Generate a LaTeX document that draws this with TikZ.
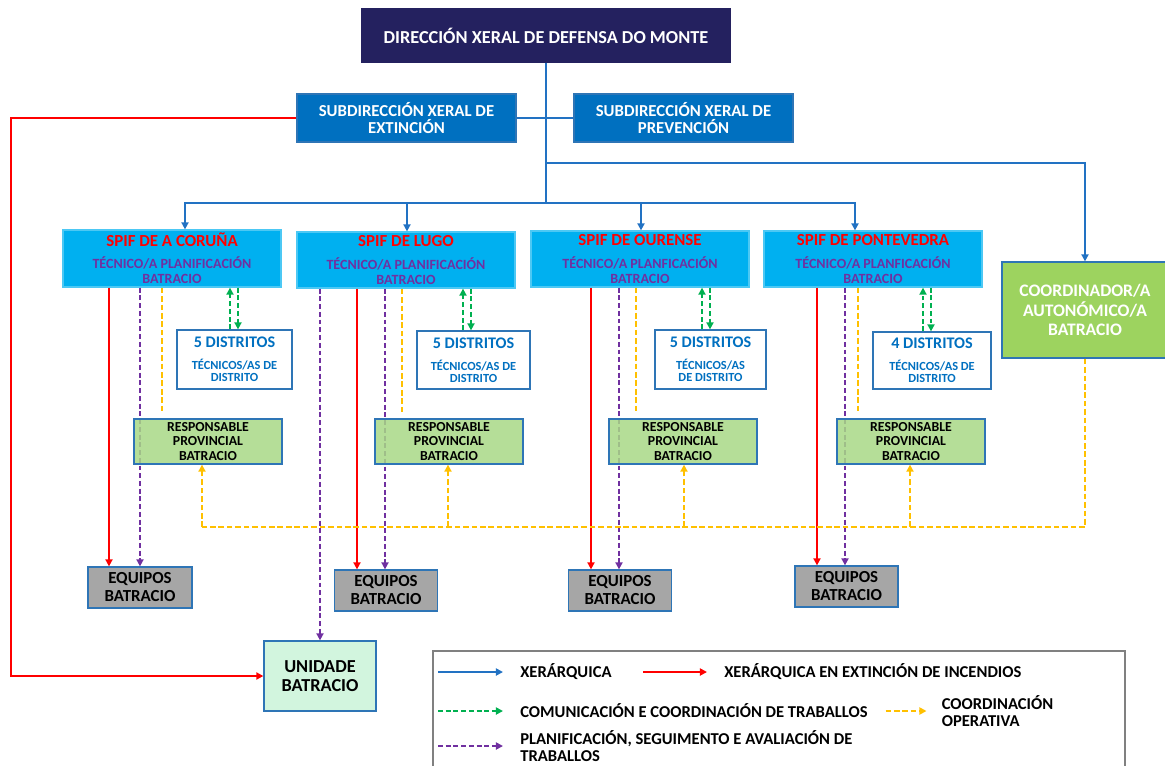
\documentclass[tikz,border=0pt]{standalone}
\usepackage{fontspec}
\setmainfont{Carlito}
\usepackage{xcolor}
\usepackage{tikz}
\usetikzlibrary{arrows.meta,calc}
\definecolor{dirnavy}{HTML}{24215F}
\definecolor{subblue}{HTML}{0070C0}
\definecolor{hierblue}{HTML}{2272C3}
\definecolor{spifcyan}{HTML}{00B0F0}
\definecolor{boxedge}{HTML}{2E75B6}
\definecolor{extred}{HTML}{FF0000}
\definecolor{planpurple}{HTML}{7030A0}
\definecolor{commgreen}{HTML}{00B050}
\definecolor{opyellow}{HTML}{FFC000}
\definecolor{respgreen}{HTML}{A8D886}
\definecolor{coordgreen}{HTML}{9DD35F}
\definecolor{eqgrey}{HTML}{A6A6A6}
\definecolor{unimint}{HTML}{D2F5DE}
\definecolor{leggrey}{HTML}{808080}
\tikzset{
  box/.style      = {draw=boxedge, line width=0.9pt, align=center, inner sep=0pt,
                     font=\bfseries},
  wh/.style 2 args = {minimum width=#1*0.025cm, minimum height=#2*0.025cm},
  dirbox/.style   = {box, fill=dirnavy, draw=dirnavy, text=white,
                     font=\bfseries\fontsize{13}{15}\selectfont},
  subbox/.style   = {box, fill=subblue, text=white,
                     font=\bfseries\fontsize{11.9}{12.2}\selectfont},
  spifbox/.style  = {box, fill=spifcyan, draw=spifcyan!70!white,
                     font=\bfseries\fontsize{10}{10.7}\selectfont},
  distbox/.style  = {box, fill=white, text=subblue,
                     font=\bfseries\fontsize{8.8}{8.6}\selectfont},
  respbox/.style  = {box, fill=respgreen, fill opacity=0.85, text opacity=1,
                     font=\bfseries\fontsize{9.8}{10.3}\selectfont},
  eqbox/.style    = {box, fill=eqgrey, font=\bfseries\fontsize{12}{12.8}\selectfont},
  unibox/.style   = {box, fill=unimint, font=\bfseries\fontsize{13}{13.5}\selectfont},
  coordbox/.style = {box, fill=coordgreen, text=white,
                     font=\bfseries\fontsize{12.5}{13.9}\selectfont},
  legbox/.style   = {draw=leggrey, line width=1pt},
  leglab/.style   = {font=\bfseries\fontsize{11.8}{12.4}\selectfont, inner sep=0pt,
                     anchor=west, align=left},
  tip/.style      = {-{Triangle[length=5pt,width=5pt]}},
  hier/.style     = {draw=hierblue, line width=1.3pt},
  hierarr/.style  = {hier, tip},
  extarr/.style   = {draw=extred, line width=1.4pt, tip},
  planarr/.style  = {draw=planpurple, line width=1.3pt, dash pattern=on 3.5pt off 2pt, tip},
  commarr/.style  = {draw=commgreen, line width=1.3pt, dash pattern=on 3.5pt off 2pt, tip},
  oper/.style     = {draw=opyellow, line width=1.3pt, dash pattern=on 4pt off 2pt},
  operarr/.style  = {oper, tip},
}
\newcommand{\spiftitle}[1]{\textcolor{extred}{\fontsize{12}{14}\selectfont #1}}
\newcommand{\spiftec}[1]{\textcolor{planpurple}{#1}}
\newcommand{\disttitle}[1]{{\fontsize{11.5}{13}\selectfont #1}}

\begin{document}
\begin{tikzpicture}[x=0.025cm, y=-0.025cm]
  \useasboundingbox (0,0) rectangle (1165,765);

  \node[dirbox, wh={368}{53}] (dir) at (546,35.5) {DIRECCIÓN XERAL DE DEFENSA DO MONTE};
  \node[subbox, wh={219}{48}] (subext) at (406.5,118) {SUBDIRECCIÓN XERAL DE\\EXTINCIÓN};
  \node[subbox, wh={219}{48}] (subprev) at (683.5,118) {SUBDIRECCIÓN XERAL DE\\PREVENCIÓN};

  \node[spifbox, wh={218}{57}] (spifcor) at (172,258.5)
        {\spiftitle{SPIF DE A CORUÑA}\\[5pt]\spiftec{TÉCNICO/A PLANIFICACIÓN}\\\spiftec{BATRACIO}};
  \node[spifbox, wh={218}{56}] (spiflug) at (406,260)
        {\spiftitle{SPIF DE LUGO}\\[5pt]\spiftec{TÉCNICO/A PLANIFICACIÓN}\\\spiftec{BATRACIO}};
  \node[spifbox, wh={218}{56}] (spifour) at (640,259)
        {\spiftitle{SPIF DE OURENSE}\\[5pt]\spiftec{TÉCNICO/A PLANFICACIÓN}\\\spiftec{BATRACIO}};
  \node[spifbox, wh={218}{56}] (spifpon) at (873,259)
        {\spiftitle{SPIF DE PONTEVEDRA}\\[5pt]\spiftec{TÉCNICO/A PLANFICACIÓN}\\\spiftec{BATRACIO}};
  \node[coordbox, wh={166}{96}] (coordaut) at (1085,310)
        {COORDINADOR/A\\AUTONÓMICO/A\\BATRACIO};

  \node[distbox, wh={115}{59}] (distcor) at (234.5,359.5)
        {\disttitle{5 DISTRITOS}\\[7pt]TÉCNICOS/AS DE\\DISTRITO};
  \node[distbox, wh={113}{58}] (distlug) at (473.5,360)
        {\disttitle{5 DISTRITOS}\\[7pt]TÉCNICOS/AS DE\\DISTRITO};
  \node[distbox, wh={111}{59}] (distour) at (710.5,359.5)
        {\disttitle{5 DISTRITOS}\\[7pt]TÉCNICOS/AS\\DE DISTRITO};
  \node[distbox, wh={118}{57}] (distpon) at (932,360.5)
        {\disttitle{4 DISTRITOS}\\[7pt]TÉCNICOS/AS DE\\DISTRITO};

  \node[eqbox, wh={104}{41}] (eqcor) at (140,587.5) {EQUIPOS\\BATRACIO};
  \node[eqbox, wh={103}{41}] (eqlug) at (386,590.5) {EQUIPOS\\BATRACIO};
  \node[eqbox, wh={103}{41}] (eqour) at (620,590.5) {EQUIPOS\\BATRACIO};
  \node[eqbox, wh={103}{41}] (eqpon) at (846.5,586.5) {EQUIPOS\\BATRACIO};
  \node[unibox, wh={112}{70}] (unidade) at (320,676) {UNIDADE\\BATRACIO};

  \coordinate (tap) at (546,163);
  \coordinate (hub) at (546,203);
  \coordinate (opbus) at (202,527);

  \draw[hier] (dir.south) -- (hub);
  \draw[hier] (subext.east) -- (subprev.west);
  \draw[hierarr] (tap) -| (coordaut.north);
  \draw[hierarr] (hub) -| (185,0 |- spifcor.north);
  \draw[hierarr] (hub) -| (407,0 |- spiflug.north);
  \draw[hierarr] (hub) -| (641,0 |- spifour.north);
  \draw[hierarr] (hub) -| (855,0 |- spifpon.north);
  \draw[extarr] (subext.west) -- ++(-285,0) |- (unidade.west);
  \draw[planarr] (spiflug.south -| unidade.north) -- (unidade.north);

  \foreach \p/\xr/\xv/\xg in {cor/109/140/230, lug/357/385/463, our/591/619/702, pon/817/845/923}{
    \draw[extarr] (\xr,0 |- spif\p.south) -- (\xr,0 |- eq\p.north);
    \draw[planarr] (\xv,0 |- spif\p.south) -- (\xv,0 |- eq\p.north);
    \draw[commarr] (\xg,0 |- dist\p.north) -- (\xg,0 |- spif\p.south);
    \draw[commarr] (\xg+8,0 |- spif\p.south) -- (\xg+8,0 |- dist\p.north);
  }

  \node[respbox, wh={148}{45}] (respcor) at (208,441.5) {RESPONSABLE\\PROVINCIAL\\BATRACIO};
  \node[respbox, wh={148}{45}] (resplug) at (449,441.5) {RESPONSABLE\\PROVINCIAL\\BATRACIO};
  \node[respbox, wh={148}{45}] (respour) at (683,441.5) {RESPONSABLE\\PROVINCIAL\\BATRACIO};
  \node[respbox, wh={148}{45}] (resppon) at (911,441.5) {RESPONSABLE\\PROVINCIAL\\BATRACIO};

  \draw[oper] (coordaut.south) |- (opbus);
  \foreach \p/\xy/\xa in {cor/162/202, lug/402/448, our/636/684, pon/858/910}{
    \draw[oper, shorten >=3pt] (\xy,0 |- spif\p.south) -- (\xy,0 |- resp\p.north);
    \draw[operarr] (\xa,0 |- opbus) -- (\xa,0 |- resp\p.south);
  }

  \node[legbox, wh={692}{140}] (legend) at (779,721) {};
  \node[leglab] (lgh) at (520,672) {XERÁRQUICA};
  \node[leglab] (lgx) at (724,672) {XERÁRQUICA EN EXTINCIÓN DE INCENDIOS};
  \node[leglab] (lgc) at (520,711) {COMUNICACIÓN E COORDINACIÓN DE TRABALLOS};
  \node[leglab] (lgo) at (941.5,711) {COORDINACIÓN\\OPERATIVA};
  \node[leglab] (lgp) at (520,746) {PLANIFICACIÓN, SEGUIMENTO E AVALIACIÓN DE\\TRABALLOS};

  \draw[hierarr] ($(lgh.west)+(-82,0)$) -- ($(lgh.west)+(-17,0)$);
  \draw[extarr] ($(lgx.west)+(-81,0)$) -- ($(lgx.west)+(-17,0)$);
  \draw[commarr] ($(lgc.west)+(-82,0)$) -- ($(lgc.west)+(-17,0)$);
  \draw[operarr] ($(lgo.west)+(-56,0)$) -- ($(lgo.west)+(-15,0)$);
  \draw[planarr] ($(lgp.west)+(-82,0)$) -- ($(lgp.west)+(-17,0)$);
\end{tikzpicture}
\end{document}
